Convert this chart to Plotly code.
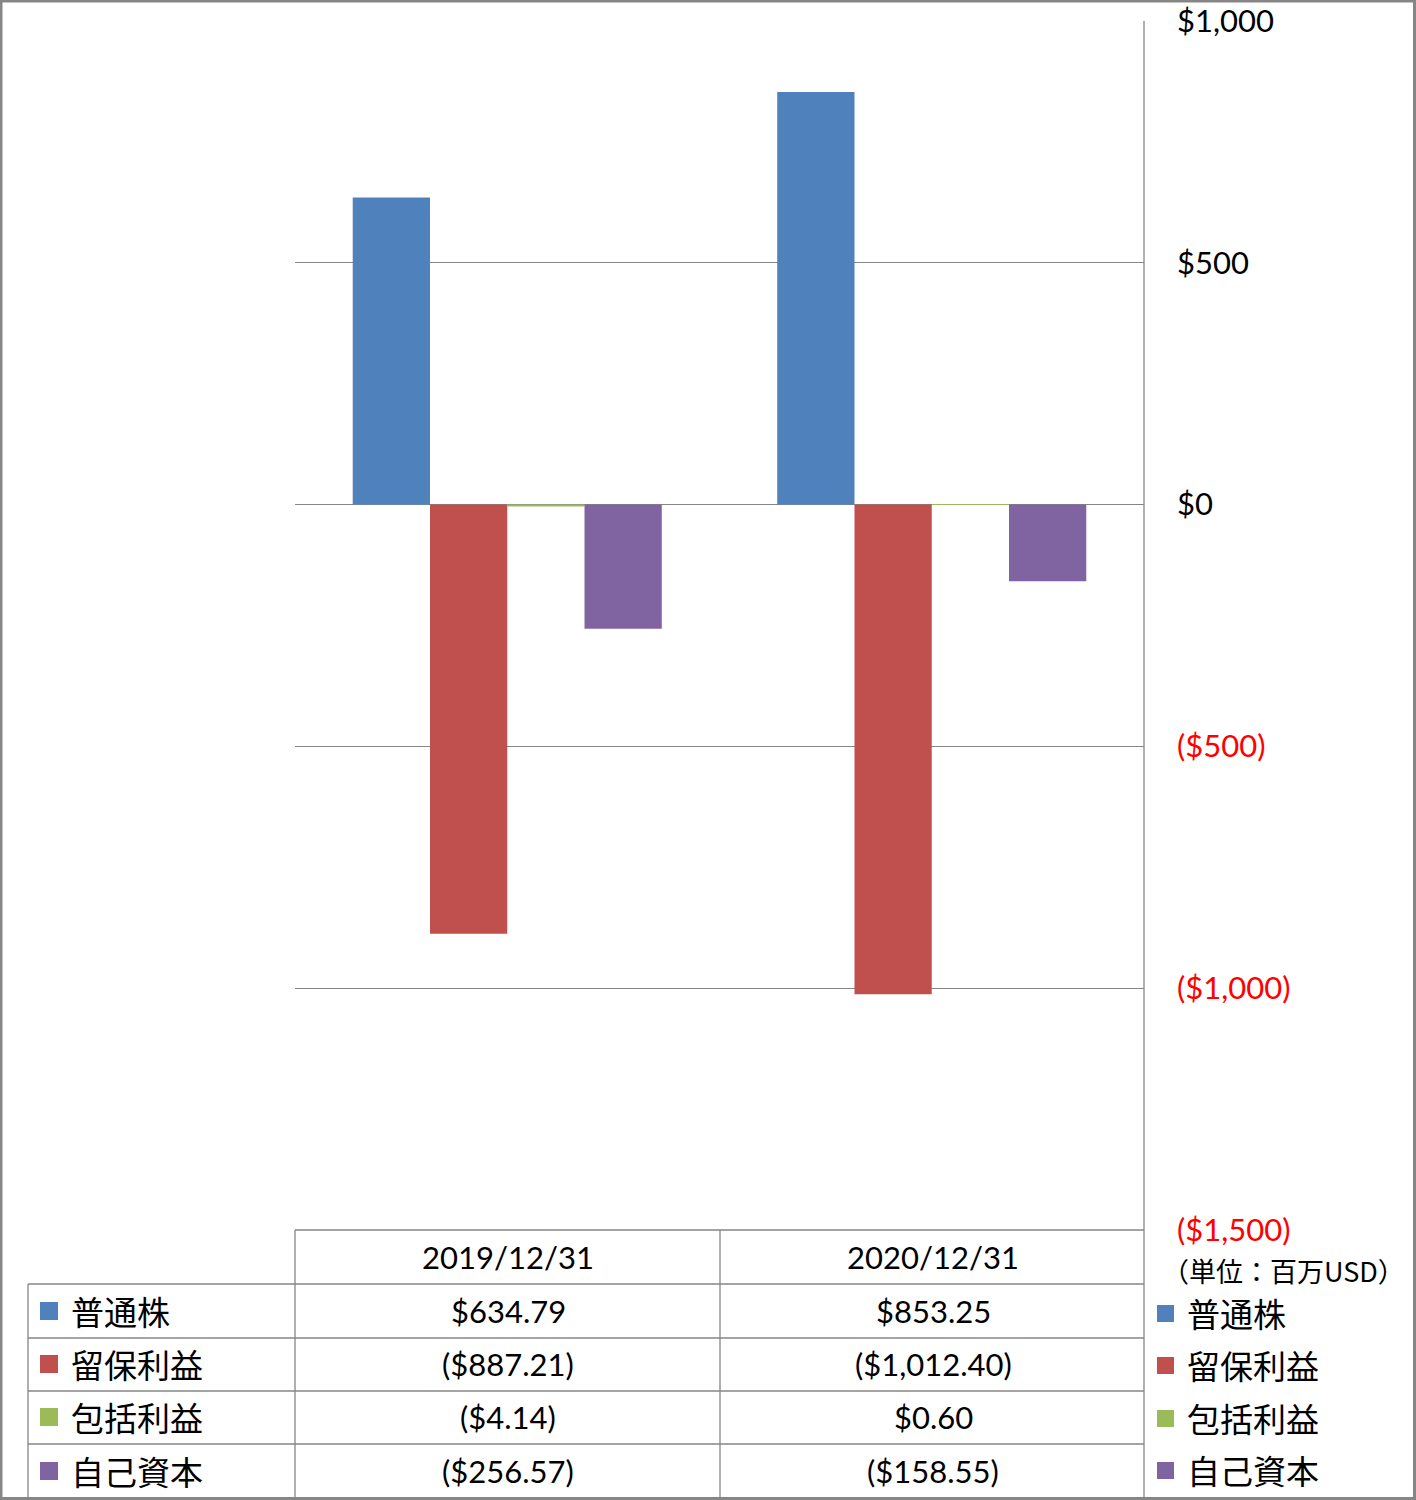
import plotly.graph_objects as go

# ---------------- data ----------------
categories = ["2019/12/31", "2020/12/31"]
series_names = ["普通株", "留保利益", "包括利益", "自己資本"]
common_stock = [634.79, 853.25]
retained_earnings = [-887.21, -1012.40]
comprehensive_income = [-4.14, 0.60]
treasury_stock = [-256.57, -158.55]
series_values = [common_stock, retained_earnings, comprehensive_income, treasury_stock]
colors = ["#4F81BD", "#C0504D", "#9BBB59", "#8064A2"]
tick_values = [1000, 500, 0, -500, -1000, -1500]
tick_labels = ["$1,000", "$500", "$0", "($500)", "($1,000)", "($1,500)"]
unit_label = "（単位：百万USD）"

W, H = 1416, 1500
NUM_FONT = "Lato, Noto Sans CJK JP"
CJK_FONT = "Noto Sans CJK JP"
GRID = "#868686"


def px(x):
    return x / W


def py(y):
    return 1 - y / H


def fmt(v):
    s = "${:,.2f}".format(abs(v))
    return "(" + s + ")" if v < 0 else s


fig = go.Figure()
for name, vals, col in zip(series_names, series_values, colors):
    fig.add_trace(go.Bar(x=categories, y=vals, name=name,
                         marker=dict(color=col, line=dict(width=0))))

ticktext = []
for v, t in zip(tick_values, tick_labels):
    ticktext.append('<span style="color:#FF0000">' + t + '</span>' if v < 0 else t)

fig.update_layout(
    width=W, height=H,
    margin=dict(l=0, r=0, t=0, b=0, pad=0),
    paper_bgcolor="white", plot_bgcolor="white",
    barmode="group", bargap=0.272, bargroupgap=0,
    showlegend=False,
    xaxis=dict(domain=[px(295), px(1144)], showticklabels=False, showgrid=False,
               zeroline=False, showline=False, ticks="", automargin=False),
    yaxis=dict(domain=[py(1230), py(21)], range=[-1500, 1000], side="right",
               tickvals=tick_values, ticktext=ticktext, ticks="",
               showgrid=True, gridcolor=GRID, gridwidth=1,
               zeroline=True, zerolinecolor=GRID, zerolinewidth=1.3,
               showline=False, ticklabelstandoff=32, automargin=False,
               tickfont=dict(family=NUM_FONT, size=31, color="black")),
)

shapes = []


def line(x0, y0, x1, y1, w=1.3):
    shapes.append(dict(type="line", xref="paper", yref="paper",
                       x0=px(x0), y0=py(y0), x1=px(x1), y1=py(y1),
                       line=dict(color=GRID, width=w)))


# right vertical axis line through the table
line(1144, 21, 1144, 1498)
# table lines
line(295, 1230, 1144, 1230)
for yy in [1284, 1338, 1391, 1444]:
    line(28, yy, 1144, yy)
line(295, 1230, 295, 1498)
line(720, 1230, 720, 1498)
line(28, 1284, 28, 1498)
# outer border
shapes.append(dict(type="rect", xref="paper", yref="paper",
                   x0=px(1), y0=py(1498.5), x1=px(1414.5), y1=py(1),
                   line=dict(color=GRID, width=3)))

annotations = []
col_centers = [508, 933]
for c, cx in zip(categories, col_centers):
    annotations.append(dict(text=c, x=px(cx), y=py(1257), xref="paper", yref="paper",
                            showarrow=False, xanchor="center", yanchor="middle",
                            font=dict(family=NUM_FONT, size=31, color="black")))

row_centers = [1311, 1364, 1417, 1471]
legend_rows = [1313, 1365, 1418, 1470]
for i, (name, vals, col) in enumerate(zip(series_names, series_values, colors)):
    ry = row_centers[i]
    # key in table
    shapes.append(dict(type="rect", xref="paper", yref="paper",
                       x0=px(40), x1=px(58), y0=py(ry + 9), y1=py(ry - 9),
                       fillcolor=col, line=dict(width=0)))
    annotations.append(dict(text=name, x=px(69), y=py(ry), xref="paper", yref="paper",
                            showarrow=False, xanchor="left", yanchor="middle",
                            font=dict(family=CJK_FONT, size=33, color="black")))
    for v, cx in zip(vals, col_centers):
        annotations.append(dict(text=fmt(v), x=px(cx), y=py(ry), xref="paper", yref="paper",
                                showarrow=False, xanchor="center", yanchor="middle",
                                font=dict(family=NUM_FONT, size=31, color="black")))
    # right legend
    ly = legend_rows[i]
    shapes.append(dict(type="rect", xref="paper", yref="paper",
                       x0=px(1157), x1=px(1174), y0=py(ly + 9), y1=py(ly - 8),
                       fillcolor=col, line=dict(width=0)))
    annotations.append(dict(text=name, x=px(1185), y=py(ly), xref="paper", yref="paper",
                            showarrow=False, xanchor="left", yanchor="middle",
                            font=dict(family=CJK_FONT, size=33, color="black")))

annotations.append(dict(text=unit_label, x=px(1160), y=py(1270), xref="paper", yref="paper",
                        showarrow=False, xanchor="left", yanchor="middle",
                        font=dict(family=CJK_FONT, size=27, color="black")))

fig.update_layout(shapes=shapes, annotations=annotations)
fig.write_html("out.html", config={"displayModeBar": False},
               post_script="document.body.style.margin='0';document.body.style.overflow='hidden';")
